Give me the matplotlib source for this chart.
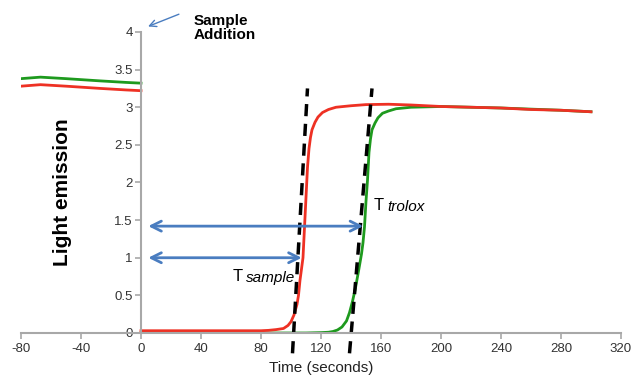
import matplotlib.pyplot as plt

plt.rcParams['font.family'] = ['Liberation Sans', 'DejaVu Sans']
plt.rcParams['axes.unicode_minus'] = False

# red curve (sample) - before and after addition
red_pre_t = [-80, -67, -50, -27, -10, 0]
red_pre_y = [3.28, 3.30, 3.28, 3.25, 3.23, 3.22]
red_t = [0, 20, 40, 60, 80, 85, 90, 95, 98, 100, 102, 104, 105, 106, 107, 108, 109,
         110, 111, 112, 113, 114, 116, 118, 121, 125, 130, 140, 150, 165, 180, 200,
         220, 240, 260, 280, 300]
red_y = [0.03, 0.03, 0.03, 0.03, 0.03, 0.035, 0.045, 0.06, 0.1, 0.15, 0.24, 0.38,
         0.5, 0.7, 0.85, 1.0, 1.4, 1.8, 2.2, 2.45, 2.6, 2.7, 2.8, 2.87, 2.93, 2.97,
         3.0, 3.02, 3.035, 3.04, 3.03, 3.01, 3.0, 2.99, 2.97, 2.96, 2.94]

# green curve (trolox)
green_pre_t = [-80, -67, -50, -27, -10, 0]
green_pre_y = [3.38, 3.40, 3.38, 3.35, 3.33, 3.32]
green_t = [0, 40, 80, 110, 120, 125, 128, 131, 134, 137, 139, 141, 143, 145, 147,
           148, 149, 150, 151, 152, 153, 154, 156, 158, 161, 165, 170, 180, 200,
           240, 280, 300]
green_y = [0.0, 0.0, 0.0, 0.0, 0.005, 0.01, 0.02, 0.04, 0.08, 0.16, 0.27, 0.42, 0.6,
           0.82, 1.05, 1.2, 1.41, 1.75, 2.03, 2.4, 2.58, 2.7, 2.79, 2.86, 2.92, 2.95,
           2.98, 3.0, 3.01, 2.99, 2.96, 2.94]

# dashed tangent lines (x pairs, y pairs)
tan_sample_x = [101, 111]
tan_trolox_x = [139, 154]
tan_y = [-0.27, 3.25]

xticks = [-80, -40, 0, 40, 80, 120, 160, 200, 240, 280, 320]
yticks = [0, 0.5, 1, 1.5, 2, 2.5, 3, 3.5, 4]
ylabels = ['0', '0.5', '1', '1.5', '2', '2.5', '3', '3.5', '4']

red = '#ee3124'
green = '#1e9a1e'
blue = '#4a7dc0'
gray = '#a8a8a8'

fig = plt.figure(figsize=(6.32, 3.8), dpi=100)
ax = fig.add_axes([0.0332, 0.1237, 0.9494, 0.7921])

ax.plot(green_pre_t, green_pre_y, color=green, lw=2)
ax.plot(red_pre_t, red_pre_y, color=red, lw=2)
ax.plot(green_t, green_y, color=green, lw=2)
ax.plot(red_t, red_y, color=red, lw=2)

ax.plot(tan_sample_x, tan_y, color='black', lw=2.5, ls=(0, (3.5, 2.2)), clip_on=False)
ax.plot(tan_trolox_x, tan_y, color='black', lw=2.5, ls=(0, (3.5, 2.2)), clip_on=False)

# double arrows for T sample / T trolox
ax.annotate('', xy=(109, 1.0), xytext=(3, 1.0),
            arrowprops=dict(arrowstyle='<->', color=blue, lw=2, mutation_scale=18))
ax.annotate('', xy=(150, 1.42), xytext=(3, 1.42),
            arrowprops=dict(arrowstyle='<->', color=blue, lw=2, mutation_scale=18))

ax.text(61, 0.75, 'T', fontsize=12, va='center')
ax.text(70, 0.73, 'sample', fontsize=11, style='italic', va='center')
ax.text(155, 1.69, 'T', fontsize=12, va='center')
ax.text(164, 1.67, 'trolox', fontsize=11, style='italic', va='center')

# sample addition note
ax.annotate('', xy=(3, 4.06), xytext=(27, 4.25), annotation_clip=False,
            arrowprops=dict(arrowstyle='->', color=blue, lw=1, mutation_scale=12))
ax.text(35, 4.24, 'Sample\nAddition', fontsize=11, fontweight='bold', va='top',
        linespacing=1.0, clip_on=False)

ax.set_xlim(-80, 320)
ax.set_ylim(0, 4)
ax.set_xticks(xticks)
ax.set_yticks(yticks)
ax.set_yticklabels(ylabels)

ax.spines['top'].set_visible(False)
ax.spines['right'].set_visible(False)
ax.spines['left'].set_position(('data', 0))
for s in ['left', 'bottom']:
    ax.spines[s].set_color(gray)
    ax.spines[s].set_linewidth(1.5)
ax.tick_params(colors=gray, labelcolor='#333333', labelsize=9.5, length=4, width=1.2)
ax.tick_params(axis='y', pad=2)

ax.set_xlabel('Time (seconds)', fontsize=11, color='#222222', labelpad=4)
ax.text(-52, 1.87, 'Light emission', rotation=90, fontsize=15, fontweight='bold',
        ha='center', va='center')

fig.savefig('out.png', dpi=100)
